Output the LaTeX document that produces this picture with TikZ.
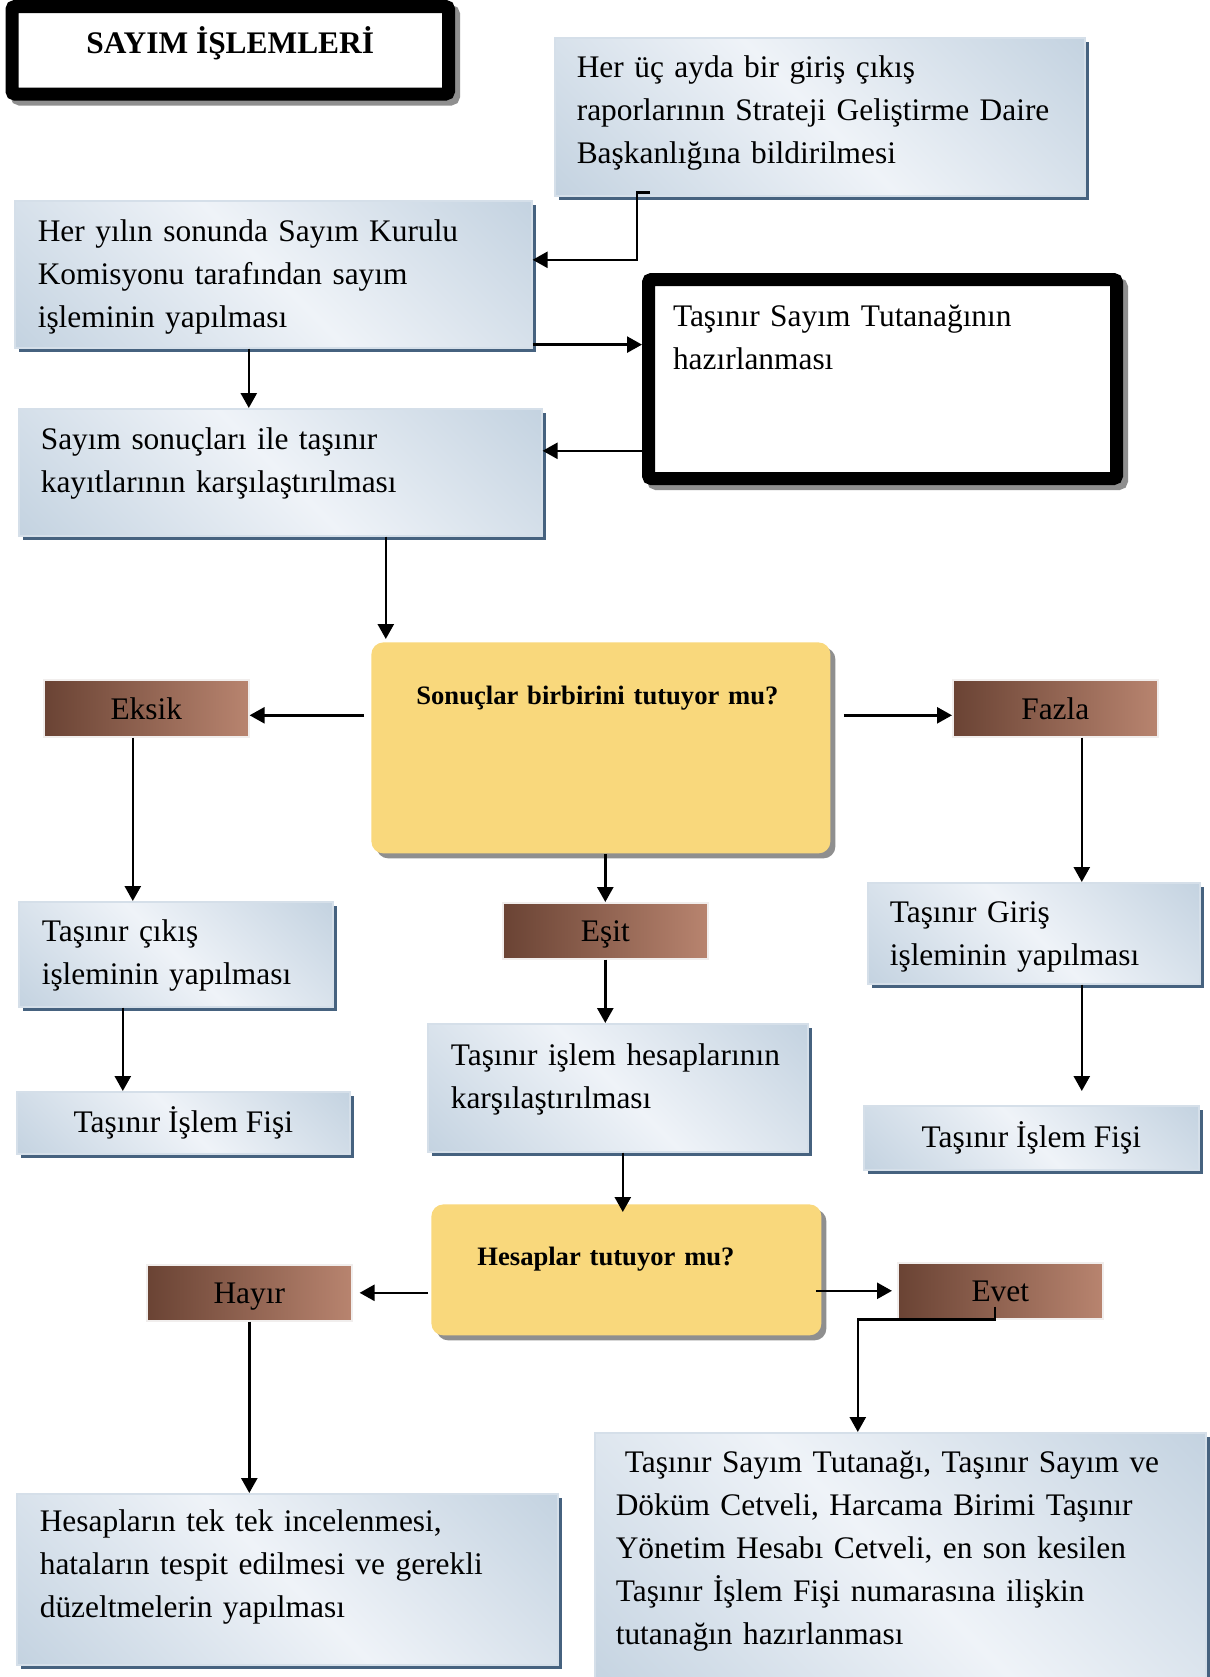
\documentclass[tikz,border=0pt]{standalone}
\usepackage{fontspec}
\setmainfont{Liberation Serif}
\usetikzlibrary{positioning,arrows.meta,shadows,calc}
\definecolor{boxdark}{HTML}{C3D2E0}
\definecolor{boxlight}{HTML}{EFF3F8}
\definecolor{boxedge}{HTML}{46627F}
\definecolor{boxrim}{HTML}{D5DFE9}
\definecolor{brownL}{HTML}{6A4334}
\definecolor{brownR}{HTML}{B8846F}
\definecolor{brownrim}{HTML}{F1EEED}
\definecolor{askfill}{HTML}{F9D87C}
\definecolor{shadowgray}{HTML}{8F8F8F}
\pgfdeclarehorizontalshading{boxshade}{100bp}{color(0bp)=(boxdark); color(14bp)=(boxdark); color(50bp)=(boxlight); color(86bp)=(boxdark); color(100bp)=(boxdark)}
\newcommand{\bodyfont}{\fontsize{15.7}{21.5}\selectfont}
\newcommand{\askfont}{\fontsize{13.3}{16}\selectfont\bfseries}

\tikzset{
  stepbox/.style={anchor=north west, inner ysep=0pt, align=left, font=\bodyfont,
    draw=boxrim, line width=0.8pt, shade, shading=boxshade, shading angle=45,
    general shadow={fill=boxedge, shadow xshift=2pt, shadow yshift=-2pt}},
  thickbox/.style={anchor=north west, inner ysep=0pt, font=\bodyfont, draw=black,
    line width=6.5pt, fill=white, rounded corners=1.5pt,
    general shadow={draw=shadowgray, fill=shadowgray, line width=6.5pt, shadow xshift=2.5pt, shadow yshift=-2.5pt}},
  askbox/.style={anchor=north west, inner ysep=0pt, align=left, font=\askfont,
    fill=askfill, rounded corners=6pt,
    general shadow={fill=shadowgray, shadow xshift=2.5pt, shadow yshift=-2.5pt}},
  tag/.style={anchor=north west, inner sep=0pt, font=\bodyfont, draw=brownrim, line width=0.8pt,
    left color=brownL, right color=brownR, minimum width=102.5pt, minimum height=28.5pt,
    text height=12.5pt, text depth=1.5pt},
  flow/.style={-{Triangle[length=7.5pt,width=8pt]}, line width=1.3pt}
}

\begin{document}
\begin{tikzpicture}[x=0.5pt,y=-0.5pt]
\useasboundingbox[fill=white] (0,0) rectangle (1210,1677);

\node[thickbox, minimum width=218.25pt, text height=23.5pt, text depth=20.25pt, font=\bodyfont\bfseries] (baslik) at (5.5,0) {SAYIM İŞLEMLERİ};
\node[stepbox, inner xsep=11pt, text width=243pt, text height=20pt, text depth=59pt] (bildirim) at (554,37)
  {Her üç ayda bir giriş çıkış\\raporlarının Strateji Geliştirme Daire\\Başkanlığına bildirilmesi};
\node[stepbox, inner xsep=11.5pt, text width=235.5pt, text height=20.5pt, text depth=53pt] (yillik) at (14,200)
  {Her yılın sonunda Sayım Kurulu\\Komisyonu tarafından sayım\\işleminin yapılması};
\node[thickbox, align=left, inner xsep=12.25pt, text width=209.5pt, text height=23.25pt, text depth=76.25pt] (tutanak) at (642,273)
  {Taşınır Sayım Tutanağının\\hazırlanması};
\node[stepbox, inner xsep=11pt, text width=239.5pt, text height=20.5pt, text depth=43pt] (sayimsonuc) at (18,408)
  {Sayım sonuçları ile taşınır\\kayıtlarının karşılaştırılması};
\node[askbox, inner xsep=22.5pt, text width=184.5pt, text height=31pt, text depth=74.5pt] (sonuclar) at (371,642)
  {Sonuçlar birbirini tutuyor mu?};
\node[tag] (eksik) at (43,679) {Eksik};
\node[tag] (fazla) at (952,679) {Fazla};
\node[stepbox, inner xsep=11.5pt, text width=134pt, text height=20pt, text depth=32.5pt] (cikis) at (18,901)
  {Taşınır çıkış\\işleminin yapılması};
\node[tag, minimum height=28pt] (esit) at (502,902) {Eşit};
\node[stepbox, inner xsep=11pt, text width=144pt, text height=20pt, text depth=30.5pt] (giris) at (867,882)
  {Taşınır Giriş\\işleminin yapılması};
\node[stepbox, inner xsep=11.5pt, text width=167pt, text height=21pt, text depth=43pt] (islem) at (427,1023)
  {Taşınır işlem hesaplarının\\karşılaştırılması};
\node[stepbox, minimum width=166.5pt, minimum height=31pt] (fisisol) at (16,1091) {Taşınır İşlem Fişi};
\node[stepbox, minimum width=167.5pt, minimum height=32pt] (fisisag) at (863,1105) {Taşınır İşlem Fişi};
\node[askbox, inner xsep=23pt, text width=149pt, text height=30.5pt, text depth=35pt] (hesaplar) at (431,1204)
  {Hesaplar tutuyor mu?};
\node[tag, minimum height=28pt] (hayir) at (146,1264) {Hayır};
\node[tag, minimum height=28pt] (evet) at (897,1262) {Evet};
\node[stepbox, inner xsep=11.5pt, text width=247.5pt, text height=19pt, text depth=66.5pt] (inceleme) at (16,1493)
  {Hesapların tek tek incelenmesi,\\hataların tespit edilmesi ve gerekli\\düzeltmelerin yapılması};
\node[stepbox, inner xsep=10.5pt, text width=284.5pt, text height=20pt, text depth=114pt] (tutanakhaz) at (594,1432)
  {\hspace*{4.5pt}Taşınır Sayım Tutanağı, Taşınır Sayım ve\\Döküm Cetveli, Harcama Birimi Taşınır\\Yönetim Hesabı Cetveli, en son kesilen\\Taşınır İşlem Fişi numarasına ilişkin\\tutanağın hazırlanması};

\draw[flow] ([shift={(48pt,2pt)}]bildirim.south west) -- ++(-6.5pt,0pt) |- ([yshift=7.25pt]yillik.east);
\draw[flow] ([yshift=2pt]yillik.south east) -- ([yshift=2pt]yillik.south east -| tutanak.west);
\draw[flow] ([yshift=10.75pt]sayimsonuc.east -| tutanak.west) -- ([yshift=10.75pt]sayimsonuc.east);
\draw[flow] ([xshift=-12.25pt]yillik.south) -- ([xshift=-12.25pt]yillik.south |- sayimsonuc.north);
\draw[flow] ([xshift=52.75pt]sayimsonuc.south) -- ([xshift=52.75pt,yshift=1.5pt]sayimsonuc.south |- sonuclar.north);
\draw[flow] ([xshift=-3.5pt,yshift=-3.5pt]eksik.east -| sonuclar.west) -- ([yshift=-3.5pt]eksik.east);
\draw[flow] ([xshift=6.5pt,yshift=-3.5pt]fazla.west -| sonuclar.east) -- ([yshift=-3.5pt]fazla.west);
\draw[flow] (sonuclar.south -| esit.north) -- (esit.north);
\draw[flow] (esit.south) -- (esit.south |- islem.north);
\draw[flow] ([xshift=-6.75pt]eksik.south) -- ([xshift=-6.75pt]eksik.south |- cikis.north);
\draw[flow] ([xshift=13.25pt]fazla.south) -- ([xshift=13.25pt]fazla.south |- giris.north);
\draw[flow] ([xshift=-26.5pt]cikis.south) -- ([xshift=-26.5pt]cikis.south |- fisisol.north);
\draw[flow] ([xshift=24pt]giris.south) -- ([xshift=24pt,yshift=7pt]giris.south |- fisisag.north);
\draw[flow] ([xshift=2.5pt]islem.south) -- ([xshift=2.5pt,yshift=-4pt]islem.south |- hesaplar.north);
\draw[flow] ([xshift=-1.5pt]hayir.east -| hesaplar.west) -- ([xshift=3.5pt]hayir.east);
\draw[flow] ([xshift=-3pt]evet.west -| hesaplar.east) -- ([xshift=-2.5pt]evet.west);
\draw[flow] ([xshift=-2.75pt,yshift=6.5pt]evet.south) -- ([xshift=-2.75pt]evet.south) -| ([xshift=-21.25pt]tutanakhaz.north);
\draw[flow] (hayir.south) -- (hayir.south |- inceleme.north);
\end{tikzpicture}
\end{document}
